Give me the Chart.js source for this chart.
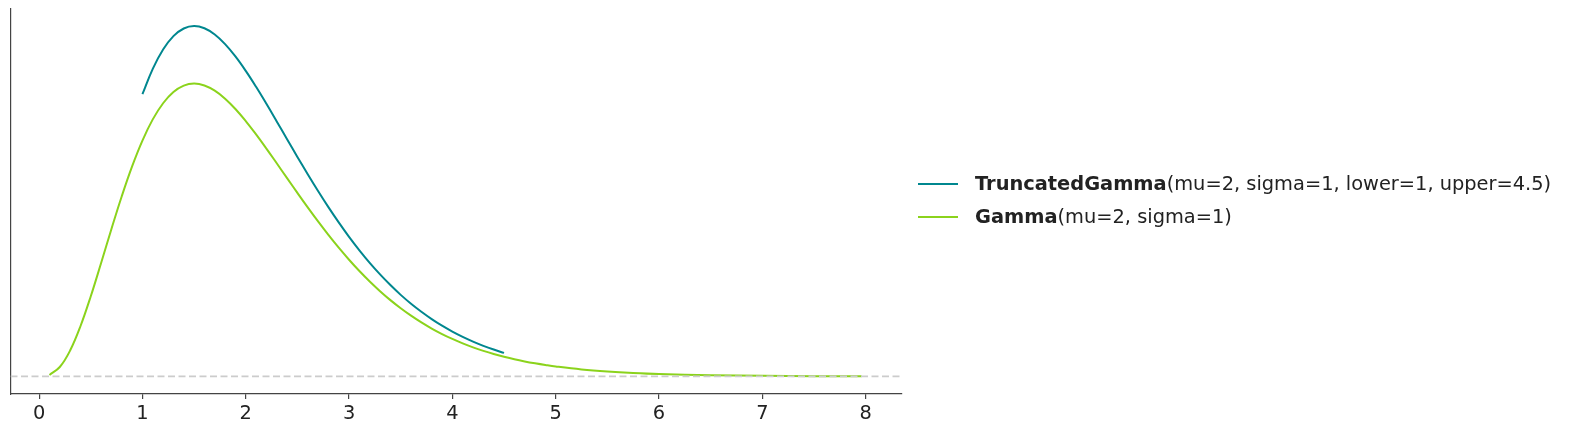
<!DOCTYPE html>
<html>
<head>
<meta charset="utf-8">
<script src="https://cdn.jsdelivr.net/npm/chart.js@4/dist/chart.umd.min.js"></script>
<style>
  html, body { margin: 0; padding: 0; background: #fff; }
  #wrap { position: relative; width: 1572px; height: 433px; }
  #legend { position: absolute; left: 918px; top: 167px; font-family: "DejaVu Sans", sans-serif; font-size: 19.4px; color: #222; }
  .item { display: flex; align-items: center; height: 33px; white-space: nowrap; }
  .swatch { width: 40px; height: 2px; margin-right: 17px; }
</style>
</head>
<body>
<div id="wrap">
  <canvas id="chart1" width="1572" height="433"></canvas>
  <div id="legend"></div>
</div>
<script>
// values
var gammaX = [0.1, 0.2, 0.3, 0.4, 0.5, 0.6, 0.7, 0.8, 0.9, 1.0,
              1.1, 1.2, 1.3, 1.4, 1.5, 1.6, 1.7, 1.8, 1.9, 2.0,
              2.1, 2.2, 2.3, 2.4, 2.5, 2.6, 2.7, 2.8, 2.9, 3.0,
              3.1, 3.2, 3.3, 3.4, 3.5, 3.6, 3.7, 3.8, 3.9, 4.0,
              4.1, 4.2, 4.3, 4.4, 4.5, 4.6, 4.7, 4.8, 4.9, 5.0,
              5.25, 5.5, 5.75, 6.0, 6.5, 7.0, 7.5, 7.96];
var gammaY = [0.0022, 0.0143, 0.0395, 0.0767, 0.1226, 0.1735, 0.2256, 0.2757, 0.3214, 0.3609,
              0.3933, 0.4180, 0.4352, 0.4450, 0.4481, 0.4452, 0.4372, 0.4250, 0.4092, 0.3907,
              0.3703, 0.3486, 0.3261, 0.3034, 0.2808, 0.2586, 0.2371, 0.2165, 0.1969, 0.1785,
              0.1612, 0.1452, 0.1304, 0.1167, 0.1043, 0.0929, 0.0826, 0.0732, 0.0648, 0.0573,
              0.0505, 0.0444, 0.0390, 0.0342, 0.0300, 0.0262, 0.0229, 0.0200, 0.0174, 0.0151,
              0.0106, 0.0074, 0.0051, 0.0035, 0.0017, 0.0008, 0.0003, 0.0002];

var truncX = [1.0, 1.1, 1.2, 1.3, 1.4, 1.5, 1.6, 1.7, 1.8, 1.9, 2.0,
              2.1, 2.2, 2.3, 2.4, 2.5, 2.6, 2.7, 2.8, 2.9, 3.0,
              3.1, 3.2, 3.3, 3.4, 3.5, 3.6, 3.7, 3.8, 3.9, 4.0,
              4.1, 4.2, 4.3, 4.4, 4.5];
var truncY = [0.4318, 0.4706, 0.5002, 0.5207, 0.5324, 0.5361, 0.5327, 0.5232, 0.5085, 0.4896, 0.4675,
              0.4431, 0.4171, 0.3902, 0.3630, 0.3359, 0.3094, 0.2837, 0.2590, 0.2356, 0.2135,
              0.1929, 0.1737, 0.1560, 0.1397, 0.1247, 0.1111, 0.0988, 0.0876, 0.0775, 0.0685,
              0.0604, 0.0532, 0.0467, 0.0410, 0.0359];

var xTicks = [0, 1, 2, 3, 4, 5, 6, 7, 8];
var xMin = -0.277, xMax = 8.352;
var yMin = -0.027, yMax = 0.563;

var names = ['TruncatedGamma', 'Gamma'];
var params = ['(mu=2, sigma=1, lower=1, upper=4.5)', '(mu=2, sigma=1)'];
var colors = ['#00878f', '#8bd31c'];

function pts(xs, ys) {
  var out = [];
  for (var i = 0; i < xs.length; i++) out.push({x: xs[i], y: ys[i]});
  return out;
}

var ctx1 = document.getElementById('chart1').getContext('2d');
var chart1 = new Chart(ctx1, {
  type: 'line',
  data: {
    datasets: [
      {
        data: [{x: xMin, y: 0}, {x: xMax, y: 0}],
        borderColor: '#cccccc',
        borderWidth: 1.7,
        borderDash: [7, 3.5],
        pointRadius: 0
      },
      {
        label: names[1],
        data: pts(gammaX, gammaY),
        borderColor: colors[1],
        borderWidth: 2,
        pointRadius: 0,
        tension: 0.4
      },
      {
        label: names[0],
        data: pts(truncX, truncY),
        borderColor: colors[0],
        borderWidth: 2,
        pointRadius: 0,
        tension: 0.4
      }
    ]
  },
  options: {
    responsive: false,
    animation: false,
    layout: { padding: { left: 10.5, top: 8.5, right: 670, bottom: 0 } },
    plugins: { legend: { display: false }, tooltip: { enabled: false } },
    scales: {
      x: {
        type: 'linear',
        min: xMin,
        max: xMax,
        afterBuildTicks: function (s) { s.ticks = xTicks.map(function (v) { return {value: v}; }); },
        afterFit: function (s) { s.height = 39; },
        grid: { drawOnChartArea: false, drawTicks: true, tickLength: 5, color: '#444', lineWidth: 1.2 },
        border: { display: true, color: '#444', width: 1.2 },
        ticks: { color: '#222', padding: 3, font: { family: 'DejaVu Sans', size: 19.4 } }
      },
      y: {
        min: yMin,
        max: yMax,
        afterFit: function (s) { s.width = 0; },
        grid: { display: false },
        border: { display: true, color: '#444', width: 1.2 },
        ticks: { display: false }
      }
    }
  }
});

var legend = document.getElementById('legend');
for (var i = 0; i < names.length; i++) {
  var row = document.createElement('div');
  row.className = 'item';
  row.innerHTML = '<span class="swatch" style="background:' + colors[i] + '"></span><b>' + names[i] + '</b><span>' + params[i] + '</span>';
  legend.appendChild(row);
}
</script>
</body>
</html>
